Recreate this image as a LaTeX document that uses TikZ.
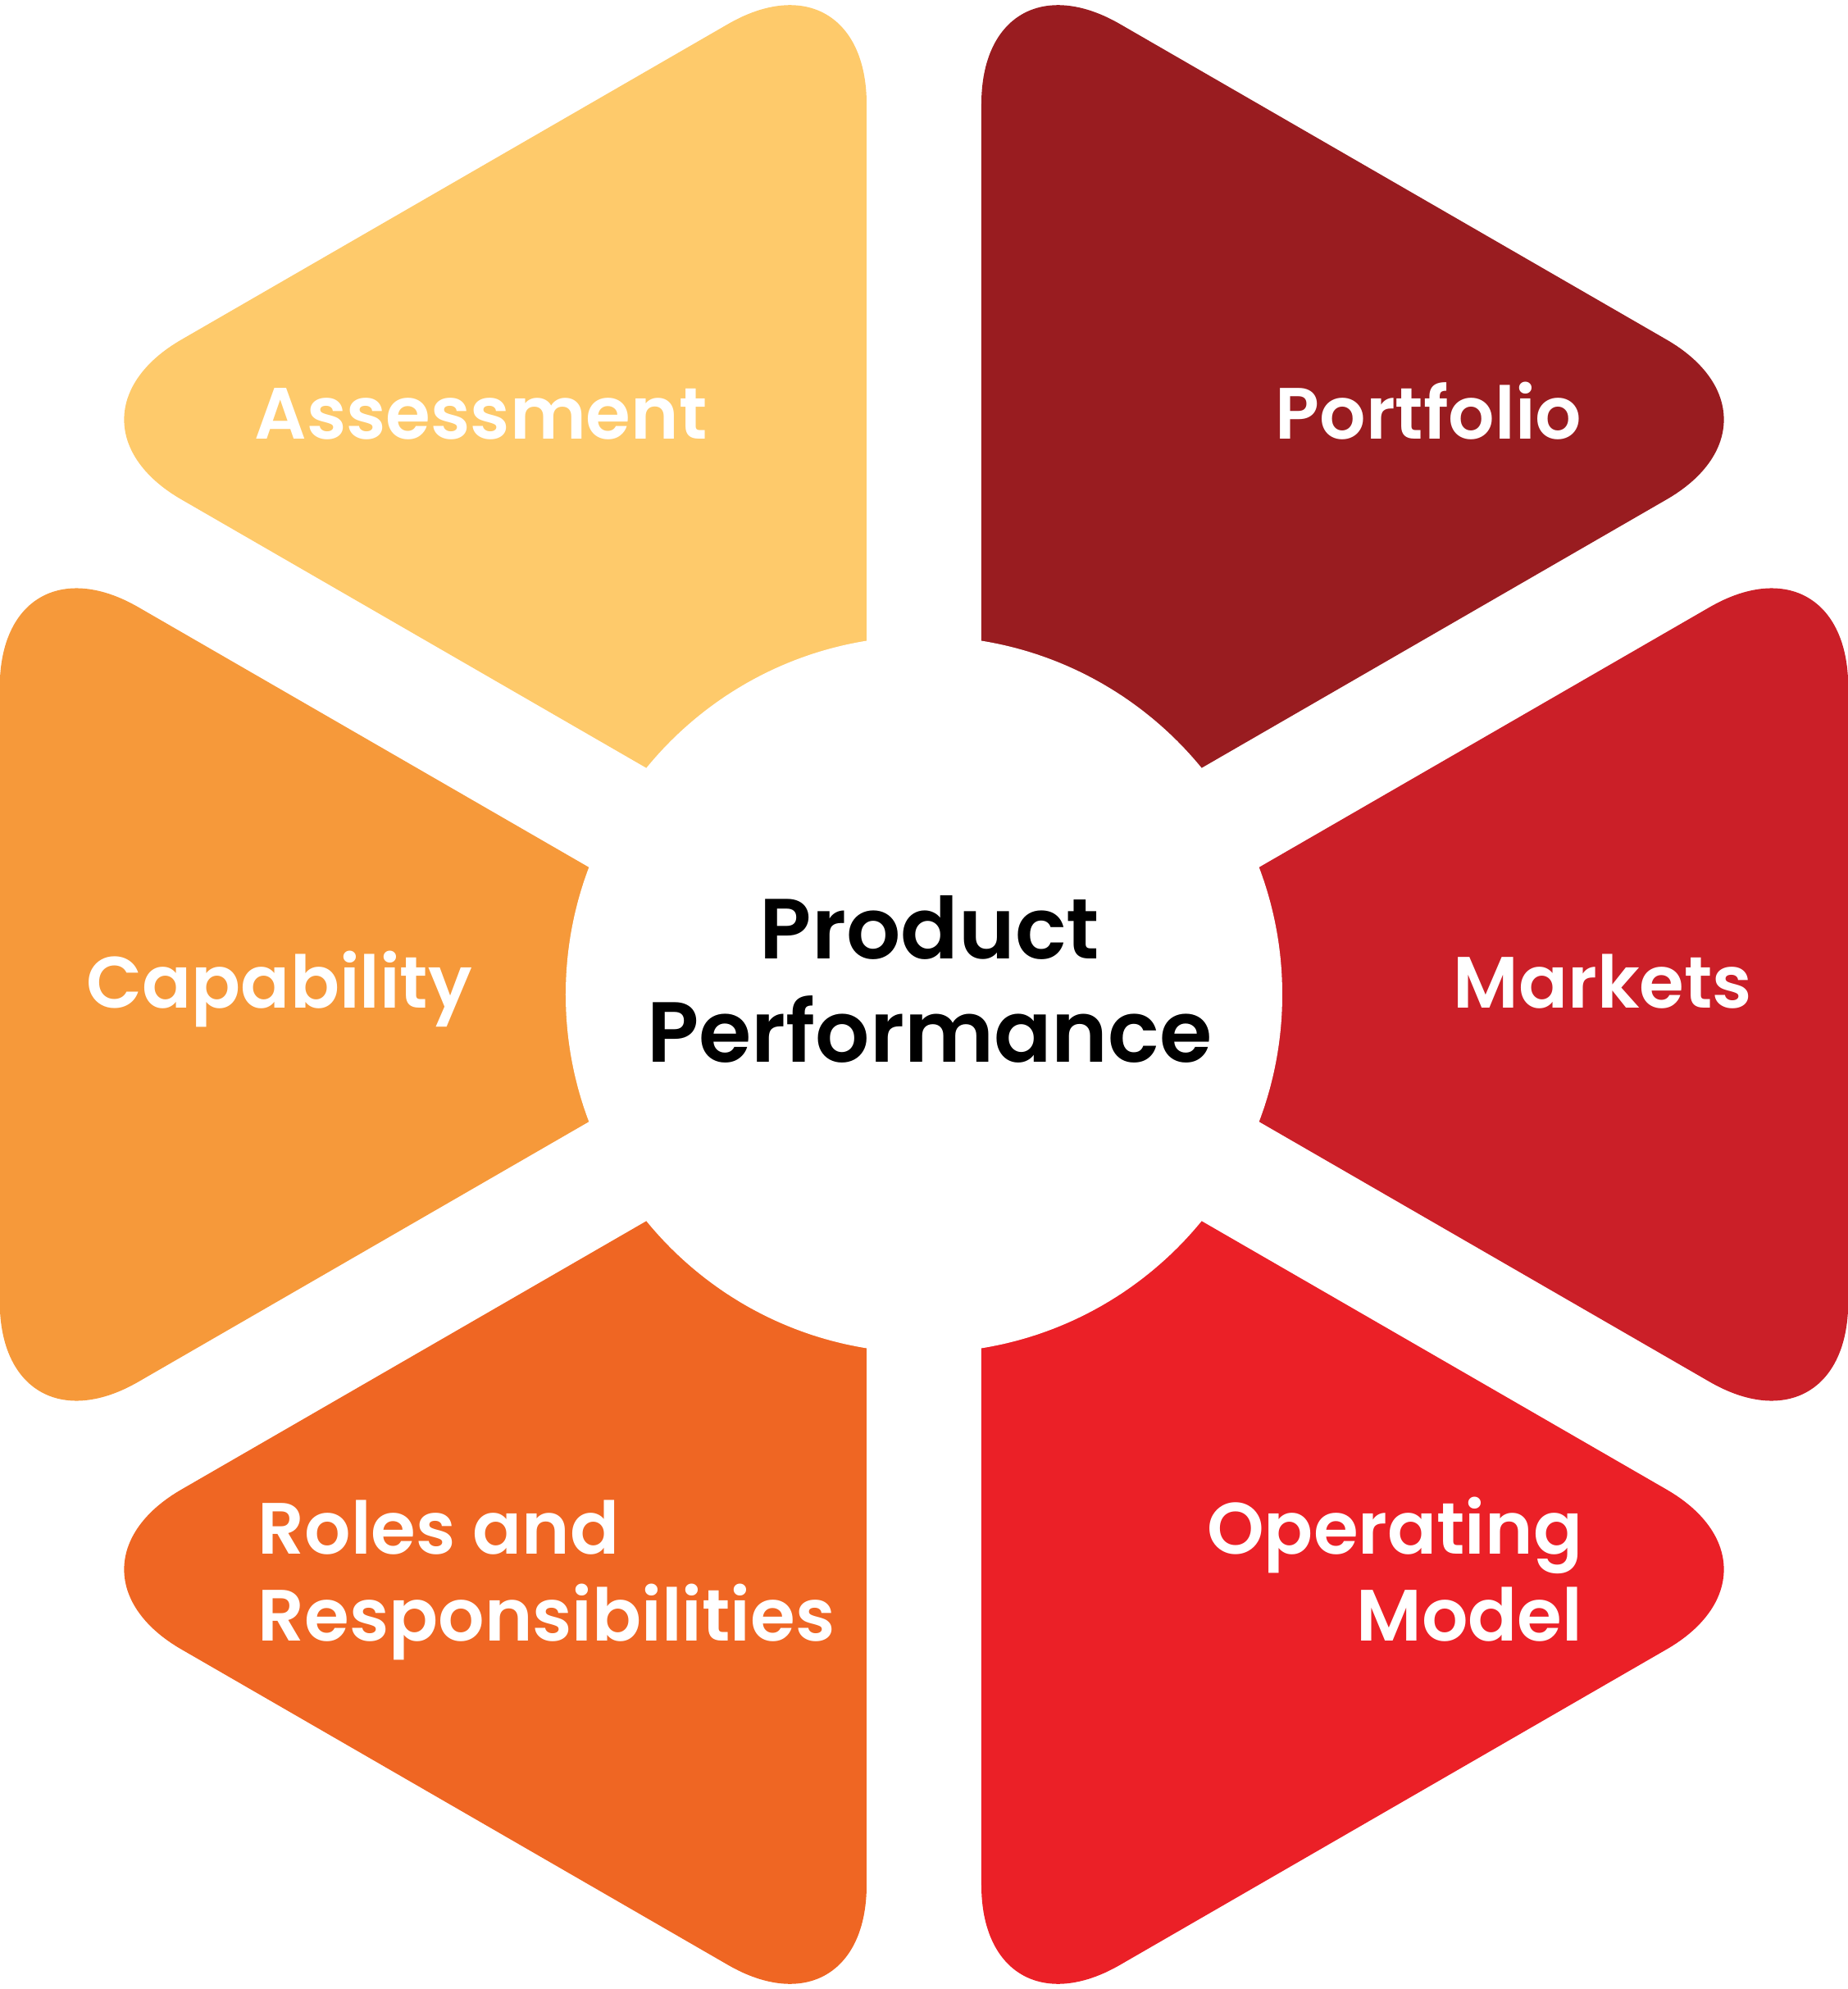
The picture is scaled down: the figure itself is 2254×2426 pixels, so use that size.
\documentclass[tikz,border=0pt]{standalone}
\usepackage{fontspec}
\setmainfont{Poppins}[BoldFont={Poppins SemiBold}]
\usepackage{tikz}
\definecolor{assessc}{HTML}{FECA6B}
\definecolor{portc}{HTML}{991C20}
\definecolor{capc}{HTML}{F6993A}
\definecolor{mktc}{HTML}{CB1F28}
\definecolor{rolec}{HTML}{EF6623}
\definecolor{opc}{HTML}{EB2027}

\begin{document}
\begin{tikzpicture}[
    x=0.01cm, y=0.01cm,
    seg/.style={fill=#1,rounded corners=1.95cm},
    lbl/.style={font=\fontsize{25.2pt}{29.9pt}\selectfont\bfseries,text=white,inner sep=0pt},
    hub/.style={font=\fontsize{29.6pt}{35.6pt}\selectfont\bfseries,text=black,inner sep=0pt,align=center},
  ]
\useasboundingbox (-1127,-1213) rectangle (1127,1213);

% ======================= six segments round the hub =======================
% side segments are a bit shorter so they stay inside the frame
\foreach \ang/\len/\col in {0/1140/mktc,60/1160/portc,120/1160/assessc,
                            180/1140/capc,240/1160/rolec,300/1160/opc}{
  \begin{scope}[shift={(\ang:140)}]
    \path[seg=\col] (0,0) -- (\ang-30:\len) -- (\ang+30:\len) -- cycle;
  \end{scope}
}

% hole in the middle
\fill[white] (0,0) circle[radius=437];

% ======================= labels =======================
\node[lbl,anchor=base west] (assess) at (-817,677) {Assessment};
\node[lbl,anchor=base east] (portf) at (803,677) {Portfolio};
\node[lbl,anchor=base west] (capab) at (-1022,-16) {Capability};
\node[lbl,anchor=base east] (mkts) at (1011,-16) {Markets};
% two-line labels: base is the last line
\node[lbl,anchor=base west,align=left] (roles) at (-813,-788) {Roles and\\Responsibilities};
\node[lbl,anchor=base east,align=right] (opmodel) at (804,-788) {Operating\\Model};

\node[hub,anchor=base] (hub) at (7,-82) {Product\\Performance};

\end{tikzpicture}
\end{document}
